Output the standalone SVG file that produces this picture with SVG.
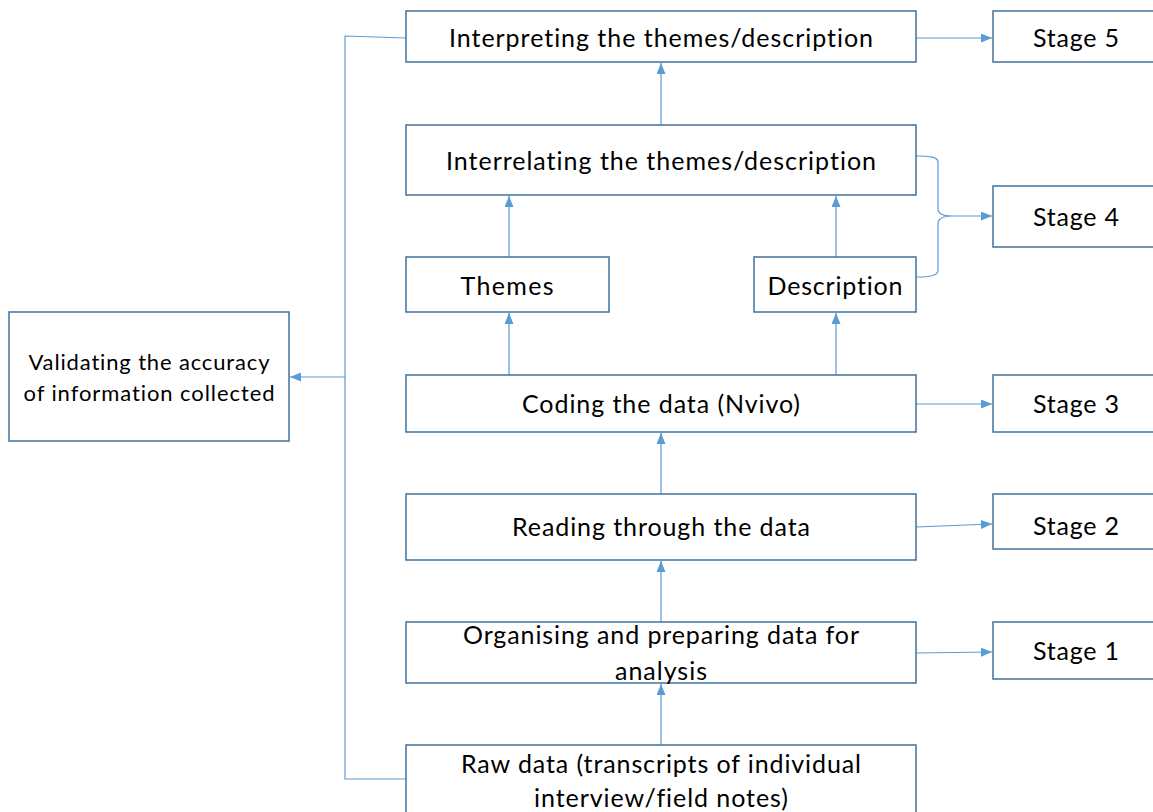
<svg xmlns="http://www.w3.org/2000/svg" width="1153" height="812" viewBox="0 0 1153 812">
<style>
.box{fill:#fff;stroke:#41719C;stroke-width:1.5}
.t{font-family:Lato,"Liberation Sans",Arial,sans-serif;font-size:25px;fill:#000;text-anchor:middle;font-variant-ligatures:none}
.s{font-size:22px}
.c{fill:none;stroke:#5B9BD5;stroke-width:1.2}
</style>
<defs>
<marker id="a" markerWidth="11" markerHeight="9" refX="11" refY="4.5" orient="auto" markerUnits="userSpaceOnUse">
<path d="M0,0 L11,4.5 L0,9 Z" fill="#5B9BD5"/>
</marker>
</defs>
<rect width="1153" height="812" fill="#fff"/>
<g id="connectors">
<path class="c" d="M406,38 L345,36 L345,779 L406,779"/>
<path class="c" d="M345,377 L290,377" marker-end="url(#a)"/>
<path class="c" d="M661,125 L661,63" marker-end="url(#a)"/>
<path class="c" d="M509,257 L509,196" marker-end="url(#a)"/>
<path class="c" d="M836,257 L836,196" marker-end="url(#a)"/>
<path class="c" d="M509,375 L509,313" marker-end="url(#a)"/>
<path class="c" d="M836,375 L836,313" marker-end="url(#a)"/>
<path class="c" d="M661,494 L661,433" marker-end="url(#a)"/>
<path class="c" d="M661,622 L661,561" marker-end="url(#a)"/>
<path class="c" d="M661,745 L661,684" marker-end="url(#a)"/>
<path class="c" d="M916,38 L992,38" marker-end="url(#a)"/>
<path class="c" d="M916,404 L992,404" marker-end="url(#a)"/>
<path class="c" d="M916,527 L992,524" marker-end="url(#a)"/>
<path class="c" d="M916,653 L992,652" marker-end="url(#a)"/>
<path class="c" d="M916,156 C930,156 938,157 938,162 L938,209 C938,215 945,216 952,216 C945,216 938,218 938,224 L938,270 C938,276 930,277 916,277"/>
<path class="c" d="M952,216 L992,216" marker-end="url(#a)"/>
</g>
<g id="n-interpreting"><rect class="box" x="406" y="11" width="510" height="51"/><text class="t" x="661" y="47" textLength="424">Interpreting the themes/description</text></g>
<g id="n-stage5"><rect class="box" x="993" y="11" width="170" height="51"/><text class="t" x="1076" y="47" textLength="86">Stage 5</text></g>
<g id="n-interrelating"><rect class="box" x="406" y="125" width="510" height="70"/><text class="t" x="661" y="170" textLength="430">Interrelating the themes/description</text></g>
<g id="n-stage4"><rect class="box" x="993" y="186" width="170" height="61"/><text class="t" x="1076" y="226" textLength="86">Stage 4</text></g>
<g id="n-themes"><rect class="box" x="406" y="257" width="203" height="55"/><text class="t" x="507" y="295" textLength="93">Themes</text></g>
<g id="n-description"><rect class="box" x="754" y="257" width="162" height="55"/><text class="t" x="835" y="295" textLength="135">Description</text></g>
<g id="n-coding"><rect class="box" x="406" y="375" width="510" height="57"/><text class="t" x="661" y="413" textLength="278">Coding the data (Nvivo)</text></g>
<g id="n-stage3"><rect class="box" x="993" y="375" width="170" height="57"/><text class="t" x="1076" y="413" textLength="86">Stage 3</text></g>
<g id="n-reading"><rect class="box" x="406" y="494" width="510" height="66"/><text class="t" x="661" y="536" textLength="298">Reading through the data</text></g>
<g id="n-stage2"><rect class="box" x="993" y="494" width="170" height="55"/><text class="t" x="1076" y="535" textLength="86">Stage 2</text></g>
<g id="n-organising"><rect class="box" x="406" y="622" width="510" height="61"/><text class="t" x="661" y="644" textLength="396">Organising and preparing data for</text><text class="t" x="661" y="680" textLength="92">analysis</text></g>
<g id="n-stage1"><rect class="box" x="993" y="622" width="170" height="57"/><text class="t" x="1076" y="660" textLength="86">Stage 1</text></g>
<g id="n-raw"><rect class="box" x="406" y="745" width="510" height="80"/><text class="t" x="661" y="773" textLength="400">Raw data (transcripts of individual</text><text class="t" x="661" y="807" textLength="254">interview/field notes)</text></g>
<g id="n-validating"><rect class="box" x="9" y="312" width="280" height="129"/><text class="t s" x="149" y="370" textLength="241">Validating the accuracy</text><text class="t s" x="149" y="401" textLength="251">of information collected</text></g>
</svg>
